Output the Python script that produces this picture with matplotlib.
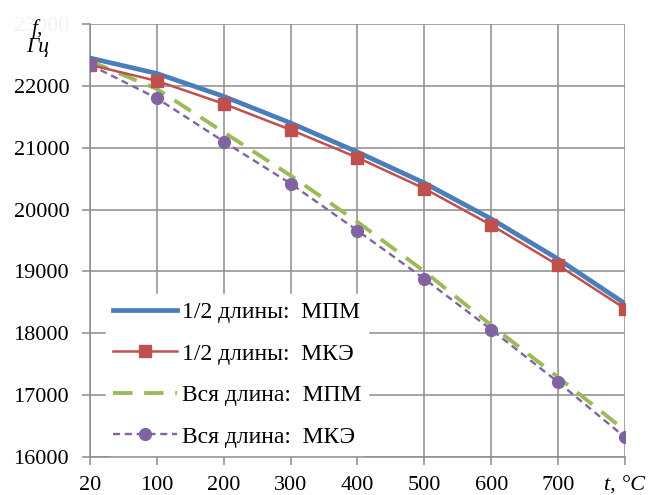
"""
Frequency vs temperature: МПМ vs МКЭ for half length and full length.
Produces: out.png
"""
import matplotlib.pyplot as plt

# ── Data ──────────────────────────────────────────────────────────────────────
temps = ["20", "100", "200", "300", "400", "500", "600", "700", "800"]
half_mpm = [22450, 22200, 21830, 21400, 20930, 20430, 19850, 19200, 18480]
half_mke = [22340, 22080, 21710, 21290, 20840, 20340, 19750, 19100, 18400]
full_mpm = [22400, 21950, 21250, 20550, 19800, 19000, 18130, 17290, 16430]
full_mke = [22340, 21800, 21100, 20420, 19660, 18880, 18060, 17210, 16320]

plt.rcParams["font.family"] = ["Liberation Serif", "DejaVu Serif"]

C_BLUE = "#4a7ebb"
C_RED = "#c0504d"
C_GREEN = "#9bbb59"
C_PURPLE = "#8064a2"
C_GRID = "#8c8c8c"

fig = plt.figure(figsize=(6.54, 4.95), dpi=100)
ax = fig.add_axes([0.1376, 0.0768, 0.818, 0.8747])

x = list(range(len(temps)))
ax.plot(x, half_mpm, color=C_BLUE, linewidth=3.4, label="1/2 длины:  МПМ", zorder=3)
ax.plot(x, half_mke, color=C_RED, linewidth=1.8, marker="s", markersize=9,
        label="1/2 длины:  МКЭ", zorder=4)
ax.plot(x, full_mpm, color=C_GREEN, linewidth=2.8, linestyle=(0, (5, 3)),
        label="Вся длина:  МПМ", zorder=3)
ax.plot(x, full_mke, color=C_PURPLE, linewidth=1.7, linestyle=(0, (3, 2)),
        marker="o", markersize=8.5, label="Вся длина:  МКЭ", zorder=4)

ax.set_xlim(0, len(temps) - 1)
ax.set_ylim(16000, 23000)
ax.set_xticks(x)
ax.set_xticklabels(temps[:-1] + ["t, °C"], fontsize=16)
ax.get_xticklabels()[-1].set_fontstyle("italic")
ax.set_yticks(range(16000, 23001, 1000))
ax.set_yticklabels([str(v) for v in range(16000, 23001, 1000)], fontsize=16)
ax.get_yticklabels()[-1].set_color("#f2f2f2")

ax.grid(color=C_GRID, linewidth=1.1)
ax.set_axisbelow(True)
for s in ["top", "right"]:
    ax.spines[s].set_visible(False)
for s in ["left", "bottom"]:
    ax.spines[s].set_color(C_GRID)
    ax.spines[s].set_linewidth(1.1)
ax.tick_params(axis="both", color=C_GRID, width=1.1, length=6)
ax.tick_params(axis="y", pad=9)
ax.tick_params(axis="x", pad=8)

leg = ax.legend(loc="lower left", fontsize=17, frameon=True, framealpha=1,
                edgecolor="white", handlelength=2.7, handletextpad=0.2,
                labelspacing=0.85, borderpad=0.3, borderaxespad=0.0,
                bbox_to_anchor=(0.03, 0.005))
leg.set_zorder(5)

fig.text(0.058, 0.962, "f,\nГц", fontsize=15.5, fontstyle="italic",
         ha="center", va="top", linespacing=0.95)

plt.savefig("out.png", dpi=100, facecolor="white")
